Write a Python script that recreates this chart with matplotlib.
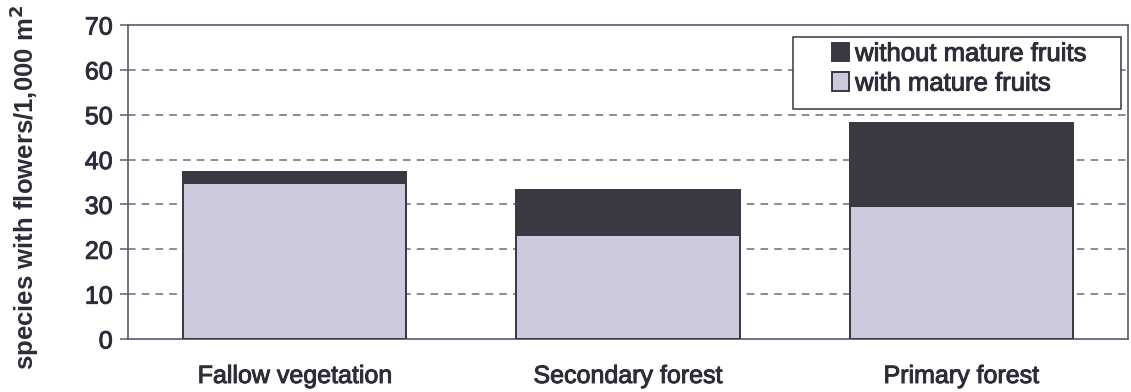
import matplotlib
matplotlib.use("Agg")
import matplotlib.pyplot as plt
import matplotlib.patheffects as pe
from matplotlib.patches import Rectangle
import numpy as np

# species with flowers per 1,000 m2, split by fruit state
habitats = ["Fallow vegetation", "Secondary forest", "Primary forest"]
with_fruits = [34.7, 23.2, 29.6]
without_fruits = [2.5, 10.0, 18.5]
y_ticks = [0, 10, 20, 30, 40, 50, 60, 70]

plt.rcParams["font.family"] = ["Liberation Sans", "DejaVu Sans"]
text_col = "#2e2b3a"
edge_col = "#3a3644"
heavy = [pe.withStroke(linewidth=0.7, foreground=text_col)]

fig = plt.figure(figsize=(11.31, 3.92), dpi=100)
ax = fig.add_axes([0.1132, 0.1352, 0.8841, 0.8010])

x = np.arange(len(habitats))
width = 0.67
b1 = ax.bar(x, with_fruits, width, color="#cdc9dd", edgecolor=edge_col,
            linewidth=1.4, label="with mature fruits", zorder=3)
b2 = ax.bar(x, without_fruits, width, bottom=with_fruits, color="#3d3943",
            edgecolor=edge_col, linewidth=1.4, label="without mature fruits", zorder=3)

ax.set_xlim(-0.5, len(habitats) - 0.5)
ax.set_ylim(0, 70)
ax.set_yticks(y_ticks)
ax.set_xticks(x)
ax.set_xticklabels(habitats)

for gy in y_ticks[1:-1]:
    ax.axhline(gy, color="#6e6a80", lw=1.1, ls=(0, (5, 4)), zorder=1)

for s in ax.spines.values():
    s.set_color("#5c5870")
    s.set_linewidth(1.2)

ax.tick_params(axis="y", length=6, width=1.1, color="#5c5870", pad=5,
               labelsize=18, labelcolor=text_col)
ax.tick_params(axis="x", length=0, pad=18, labelsize=18, labelcolor=text_col)
for t in ax.get_xticklabels() + ax.get_yticklabels():
    t.set_path_effects(heavy)

ax.set_ylabel("species with flowers/1,000 m$^\\mathbf{2}$", fontsize=18.5,
              fontweight="bold", color=text_col)
ax.yaxis.set_label_coords(-0.087, 0.484)

# legend box drawn separately to get the wide side margins
ax.add_patch(Rectangle((0.665, 0.732), 0.328, 0.230, transform=ax.transAxes,
                       facecolor="white", edgecolor="#3a3644", lw=1.1, zorder=5))
leg = ax.legend(handles=[b2, b1], loc="upper left", bbox_to_anchor=(0.704, 0.946),
                fontsize=18.5, frameon=False, handlelength=0.65, handleheight=0.75,
                handletextpad=0.25, borderpad=0, labelspacing=0.22,
                borderaxespad=0)
leg.set_zorder(6)
for t in leg.get_texts():
    t.set_color(text_col)
    t.set_path_effects(heavy)

fig.savefig("out.png", dpi=100)
